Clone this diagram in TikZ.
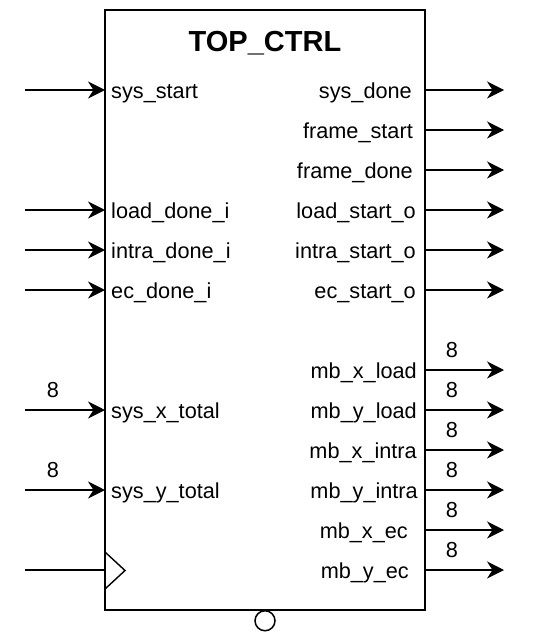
\documentclass[tikz,border=0pt]{standalone}
\usepackage{fontspec}
\setmainfont{Liberation Sans}
\usetikzlibrary{arrows.meta}
\begin{document}
\begin{tikzpicture}[x=1pt,y=-1pt,
        wire/.style={line width=1.8pt},
        sig/.style={wire,-{Stealth[length=17pt,width=17pt,inset=5.5pt]}},
        port/.style={inner sep=0pt,font=\fontsize{21.7}{25}\selectfont},
        buswd/.style={port,anchor=base}
    ]
    \def\lx{25}
    \def\rx{504}
    \useasboundingbox (0,0) rectangle (534,642);
    \node[draw,line width=2pt,inner sep=0pt,outer sep=0pt,minimum width=320,minimum height=600,anchor=north west] (ctrl) at (105,10) {};
    \node[font=\fontsize{29}{34}\selectfont\bfseries,anchor=base] (title) at (265,52) {TOP\_CTRL};
    \foreach \n/\y/\txt in {a/90/sys\_start,b/210/load\_done\_i,c/250/intra\_done\_i,d/290/ec\_done\_i,e/410/sys\_x\_total,f/490/sys\_y\_total}{
        \coordinate (in-\n) at (\lx,\y);
        \draw[sig] (in-\n) -- (ctrl.west |- in-\n);
        \node[port,anchor=base west] (lbl-\n) at (111,\y+8) {\txt};
    }
    \foreach \n/\y/\ex/\txt in {a/90/412/sys\_done,b/130/413/frame\_start,c/170/413/frame\_done,d/210/416/load\_start\_o,e/250/416/intra\_start\_o,f/290/416/ec\_start\_o,g/370/417/mb\_x\_load,h/410/417/mb\_y\_load,i/450/417/mb\_x\_intra,j/490/418/mb\_y\_intra,k/530/408/mb\_x\_ec,l/570/409/mb\_y\_ec}{
        \coordinate (out-\n) at (\rx,\y);
        \draw[sig] (ctrl.east |- out-\n) -- (out-\n);
        \node[port,anchor=base east] (olbl-\n) at (\ex,\y+8) {\txt};
    }
    \foreach \y in {370,410,450,490,530,570}
        \node[buswd] (w-\y) at (452,\y-12.7) {8};
    \foreach \y in {410,490}
        \node[buswd] (wi-\y) at (53,\y-12.7) {8};
    \coordinate (clk) at (\lx,570);
    \draw[wire] (clk) -- (ctrl.west |- clk);
    \draw[line width=1.4pt,line join=miter] (ctrl.west |- 0,552) -- (125,570.5) -- (ctrl.west |- 0,589);
    \node[draw,circle,line width=1.5pt,minimum size=20,inner sep=0pt,anchor=north] (rst) at (ctrl.south) {};
\end{tikzpicture}
\end{document}
